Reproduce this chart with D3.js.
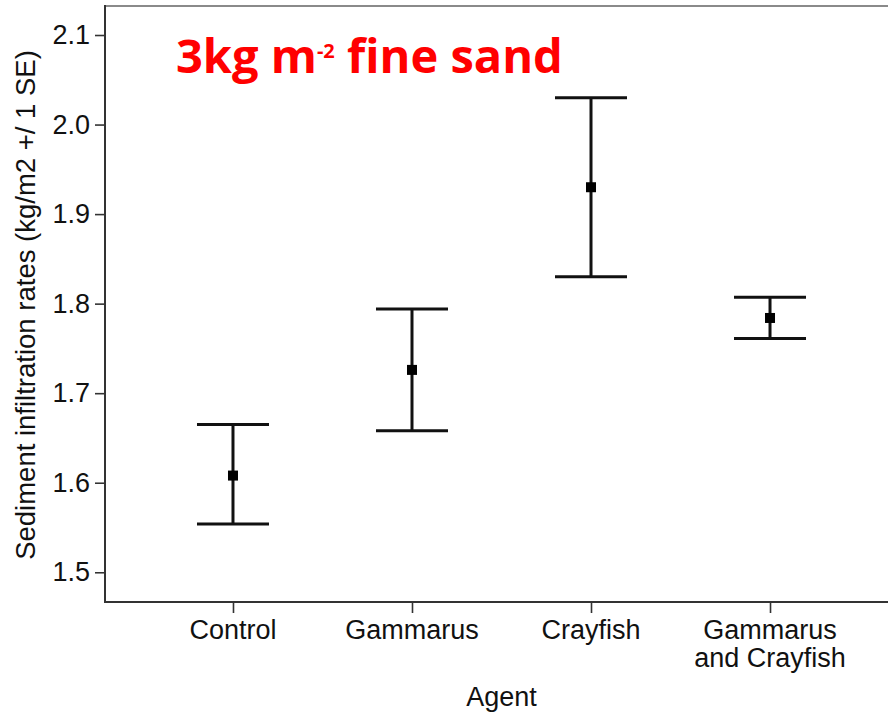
<!DOCTYPE html>
<html>
<head>
<meta charset="utf-8">
<script src="https://cdn.jsdelivr.net/npm/d3@7"></script>
<style>
  html, body { margin: 0; padding: 0; background: #fff; }
  svg { display: block; }
</style>
</head>
<body>
<script>
// Sediment infiltration rates by agent (mean with ±1 SE)
const categories = ["Control", "Gammarus", "Crayfish", "Gammarus\nand Crayfish"];
const means = [1.608, 1.726, 1.930, 1.784];
const upper = [1.665, 1.794, 2.030, 1.807];
const lower = [1.554, 1.658, 1.830, 1.761];
const yTicks = [1.5, 1.6, 1.7, 1.8, 1.9, 2.0, 2.1];

const W = 888, H = 715;
const frame = { left: 105, right: 898, top: 6, bottom: 602 };

const svg = d3.select("body").append("svg")
  .attr("width", W).attr("height", H)
  .style("font-family", "'Liberation Sans', Arial, sans-serif");

const x = d3.scalePoint()
  .domain(categories)
  .range([frame.left, frame.right])
  .padding(0.715);

const y = d3.scaleLinear()
  .domain([1.4668, 2.1324])
  .range([frame.bottom, frame.top]);

// plot frame
svg.append("line")
  .attr("x1", frame.left).attr("x2", frame.right)
  .attr("y1", frame.top).attr("y2", frame.top)
  .attr("stroke", "#8a8a8a").attr("stroke-width", 2);

// y axis
const yAxis = svg.append("g")
  .attr("transform", `translate(${frame.left},0)`)
  .call(d3.axisLeft(y).tickValues(yTicks).tickFormat(d3.format(".1f"))
    .tickSize(10).tickSizeOuter(0).tickPadding(5));
yAxis.select(".domain").remove();
yAxis.selectAll(".tick line").attr("stroke", "#333").attr("stroke-width", 1.6);
yAxis.selectAll(".tick text")
  .attr("font-size", 27).attr("fill", "#111")
  .attr("font-family", "'Liberation Sans', Arial, sans-serif");

svg.append("line")
  .attr("x1", frame.left).attr("x2", frame.left)
  .attr("y1", frame.top - 1).attr("y2", frame.bottom + 1)
  .attr("stroke", "#333").attr("stroke-width", 2);

// x axis
const xAxis = svg.append("g")
  .attr("transform", `translate(0,${frame.bottom})`)
  .call(d3.axisBottom(x).tickSize(11).tickSizeOuter(0).tickFormat(""));
xAxis.select(".domain").remove();
xAxis.selectAll(".tick line").attr("stroke", "#333").attr("stroke-width", 1.6);

svg.append("line")
  .attr("x1", frame.left - 1).attr("x2", frame.right)
  .attr("y1", frame.bottom).attr("y2", frame.bottom)
  .attr("stroke", "#333").attr("stroke-width", 2);

// category labels (multi-line)
const catLabels = svg.append("g")
  .attr("font-size", 27).attr("fill", "#111").attr("text-anchor", "middle");
categories.forEach(c => {
  const t = catLabels.append("text")
    .attr("x", x(c)).attr("y", 639);
  c.split("\n").forEach((line, i) => {
    t.append("tspan").attr("x", x(c)).attr("dy", i === 0 ? 0 : 28).text(line);
  });
});

// axis titles
svg.append("text")
  .attr("x", (frame.left + 888 + 0) / 2 + 5).attr("y", 706)
  .attr("text-anchor", "middle").attr("font-size", 27).attr("fill", "#111")
  .text("Agent");

svg.append("text")
  .attr("transform", "translate(35,305) rotate(-90)")
  .attr("text-anchor", "middle").attr("font-size", 27.5).attr("fill", "#111")
  .text("Sediment infiltration rates (kg/m2 +/ 1 SE)");

// error bars
const capHalf = 36;
const bars = svg.append("g").attr("stroke", "#111").attr("stroke-width", 3);
categories.forEach((c, i) => {
  const cx = x(c);
  bars.append("line")
    .attr("x1", cx).attr("x2", cx)
    .attr("y1", y(upper[i])).attr("y2", y(lower[i]));
  bars.append("line")
    .attr("x1", cx - capHalf).attr("x2", cx + capHalf)
    .attr("y1", y(upper[i])).attr("y2", y(upper[i]));
  bars.append("line")
    .attr("x1", cx - capHalf).attr("x2", cx + capHalf)
    .attr("y1", y(lower[i])).attr("y2", y(lower[i]));
});

// mean markers
const ms = 10;
svg.append("g").selectAll("rect")
  .data(means)
  .join("rect")
  .attr("x", (d, i) => x(categories[i]) - ms / 2)
  .attr("y", d => y(d) - ms / 2)
  .attr("width", ms).attr("height", ms)
  .attr("fill", "#000");

// annotation
const note = svg.append("text")
  .attr("x", 176).attr("y", 73)
  .attr("font-family", "'Open Sans', sans-serif")
  .attr("font-weight", 700).attr("font-size", 47)
  .attr("fill", "#ff0000");
note.append("tspan").text("3kg m");
note.append("tspan").attr("font-size", 20).attr("dy", -15).text("-2");
note.append("tspan").attr("dy", 15).text(" fine sand");
</script>
</body>
</html>
